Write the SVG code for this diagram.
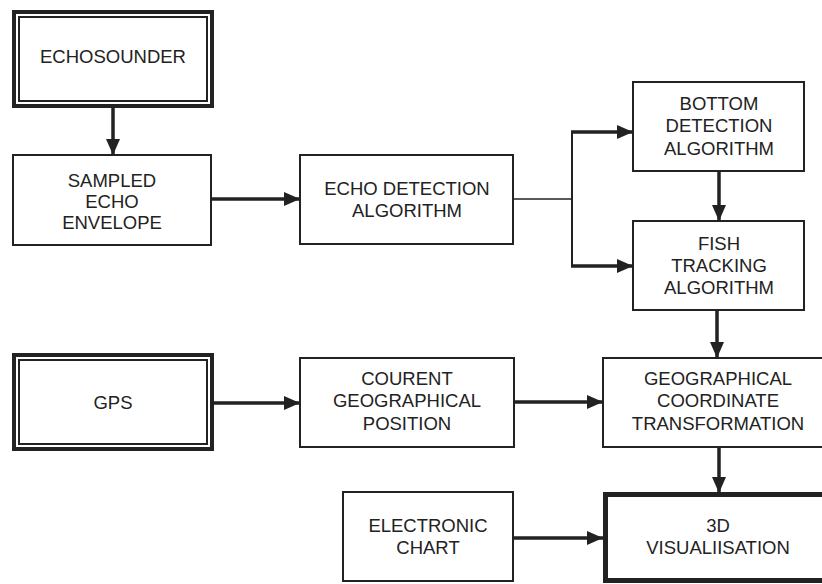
<svg xmlns="http://www.w3.org/2000/svg" width="822" height="584" viewBox="0 0 822 584">
<style>
.box{fill:#fff;stroke:#222;stroke-width:2}
.thick{fill:#fff;stroke:#222;stroke-width:5}
.outer{fill:#fff;stroke:#222;stroke-width:4}
.inner{fill:none;stroke:#222;stroke-width:2}
.t{font-family:"Liberation Sans",Arial,sans-serif;font-size:18.5px;fill:#222;text-anchor:middle}
.a{stroke:#222;stroke-width:3.5;fill:none}
.thin{stroke:#222;stroke-width:1.5;fill:none}
.mid{stroke:#222;stroke-width:2;fill:none}
</style>
<defs>
<marker id="ah" viewBox="0 0 16 14" refX="16" refY="7" markerWidth="16" markerHeight="14" markerUnits="userSpaceOnUse" orient="auto">
<path d="M0,0 L16,7 L0,14 Z" fill="#222"/>
</marker>
</defs>
<g id="connectors">
<line class="a" x1="113" y1="108" x2="113" y2="155" marker-end="url(#ah)"/>
<line class="a" x1="211" y1="199" x2="300" y2="199" marker-end="url(#ah)"/>
<line class="thin" x1="513" y1="199" x2="572" y2="199"/>
<line class="mid" x1="572" y1="131" x2="572" y2="267"/>
<line class="a" x1="571" y1="132" x2="633" y2="132" marker-end="url(#ah)"/>
<line class="a" x1="571" y1="266" x2="633" y2="266" marker-end="url(#ah)"/>
<line class="a" x1="719" y1="171" x2="719" y2="221" marker-end="url(#ah)"/>
<line class="a" x1="717" y1="310" x2="717" y2="358" marker-end="url(#ah)"/>
<line class="a" x1="214" y1="403" x2="300" y2="403" marker-end="url(#ah)"/>
<line class="a" x1="514" y1="402" x2="603" y2="402" marker-end="url(#ah)"/>
<line class="a" x1="719" y1="447" x2="719" y2="493" marker-end="url(#ah)"/>
<line class="a" x1="513" y1="538" x2="603" y2="538" marker-end="url(#ah)"/>
</g>
<g id="echosounder">
<rect class="outer" x="14" y="12" width="198" height="94"/>
<rect class="inner" x="19" y="17" width="188" height="84"/>
<text class="t" x="113" y="63">ECHOSOUNDER</text>
</g>
<g id="sampled">
<rect class="box" x="13" y="155" width="198" height="90"/>
<text class="t" x="112" y="187">SAMPLED</text>
<text class="t" x="112" y="208">ECHO</text>
<text class="t" x="112" y="229">ENVELOPE</text>
</g>
<g id="echodetection">
<rect class="box" x="300" y="155" width="213" height="89"/>
<text class="t" x="407" y="195">ECHO DETECTION</text>
<text class="t" x="407" y="217">ALGORITHM</text>
</g>
<g id="bottom">
<rect class="box" x="633" y="82" width="171" height="89"/>
<text class="t" x="719" y="110">BOTTOM</text>
<text class="t" x="719" y="132">DETECTION</text>
<text class="t" x="719" y="155">ALGORITHM</text>
</g>
<g id="fish">
<rect class="box" x="633" y="221" width="171" height="89"/>
<text class="t" x="719" y="250">FISH</text>
<text class="t" x="719" y="272">TRACKING</text>
<text class="t" x="719" y="294">ALGORITHM</text>
</g>
<g id="gps">
<rect class="outer" x="14" y="355" width="198" height="94"/>
<rect class="inner" x="19" y="360" width="188" height="84"/>
<text class="t" x="113" y="409">GPS</text>
</g>
<g id="courent">
<rect class="box" x="300" y="358" width="214" height="89"/>
<text class="t" x="407" y="385">COURENT</text>
<text class="t" x="407" y="407">GEOGRAPHICAL</text>
<text class="t" x="407" y="430">POSITION</text>
</g>
<g id="geo">
<rect class="box" x="603" y="358" width="232" height="89"/>
<text class="t" x="718" y="385">GEOGRAPHICAL</text>
<text class="t" x="718" y="407">COORDINATE</text>
<text class="t" x="718" y="430">TRANSFORMATION</text>
</g>
<g id="chart">
<rect class="box" x="343" y="492" width="170" height="89"/>
<text class="t" x="428" y="532">ELECTRONIC</text>
<text class="t" x="428" y="554">CHART</text>
</g>
<g id="vis">
<rect class="thick" x="605.5" y="494.5" width="230" height="86"/>
<text class="t" x="718" y="532">3D</text>
<text class="t" x="718" y="554">VISUALIISATION</text>
</g>
</svg>
